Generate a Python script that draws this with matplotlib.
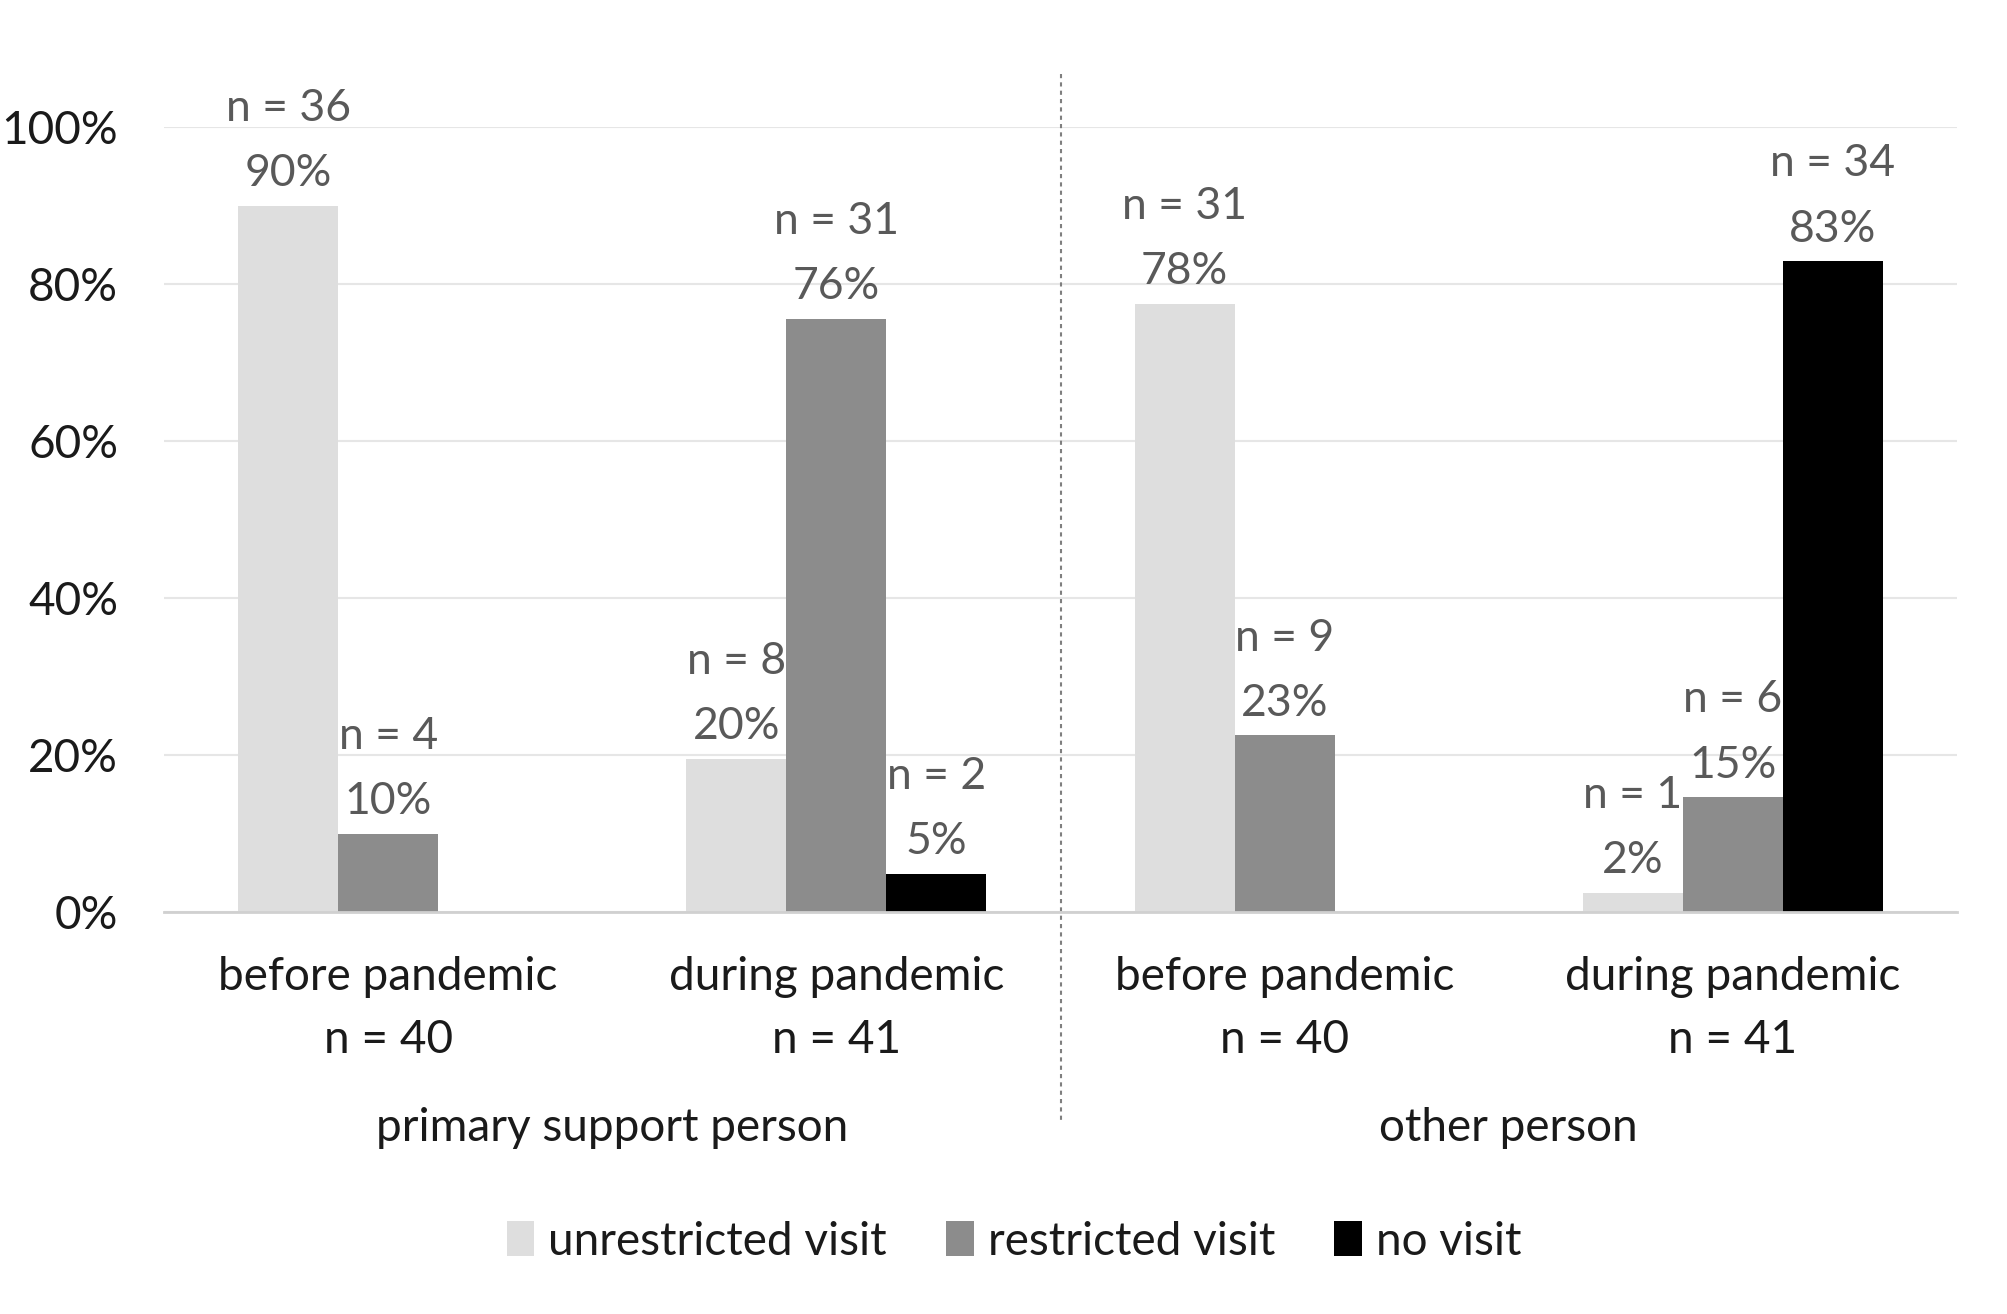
import matplotlib
matplotlib.use('Agg')
import matplotlib.pyplot as plt
import matplotlib.transforms as mtransforms
from matplotlib.patches import Patch

plt.rcParams['font.family'] = ['Lato', 'DejaVu Sans']

# data
categories = ['before pandemic', 'during pandemic', 'before pandemic', 'during pandemic']
totals = [40, 41, 40, 41]
groups = ['primary support person', 'other person']
series = ['unrestricted visit', 'restricted visit', 'no visit']
counts_unrestricted = [36, 8, 31, 1]
counts_restricted = [4, 31, 9, 6]
counts_novisit = [0, 2, 0, 34]
colors = ['#dedede', '#8c8c8c', '#000000']

counts = [counts_unrestricted, counts_restricted, counts_novisit]

fig = plt.figure(figsize=(20.08, 13.14), dpi=100)
ax = fig.add_axes([0.0817, 0.3059, 0.8929, 0.5974])

fs = 33
bw = 0.223
offsets = [-bw, 0, bw]
for s, (name, cnts, col) in enumerate(zip(series, counts, colors)):
    xs = [i + offsets[s] for i in range(len(categories))]
    pcts = [c / t * 100 for c, t in zip(cnts, totals)]
    ax.bar(xs, pcts, width=bw, color=col, label=name, zorder=3)
    for x, p, c in zip(xs, pcts, cnts):
        if c == 0:
            continue
        ax.annotate('%d%%' % int(p + 0.5), (x, p), xytext=(0, 23), textcoords='offset points',
                    ha='center', va='center', fontsize=32, color='#595959', annotation_clip=False)
        ax.annotate('n = %d' % c, (x, p), xytext=(0, 70), textcoords='offset points',
                    ha='center', va='center', fontsize=32, color='#595959', annotation_clip=False)

ax.set_xlim(-0.5, 3.5)
ax.set_ylim(0, 100)
ax.set_yticks([0, 20, 40, 60, 80, 100])
ax.set_yticklabels(['0%', '20%', '40%', '60%', '80%', '100%'])
ax.tick_params(axis='y', length=0, pad=33, labelsize=fs, labelcolor='#1a1a1a')
ax.set_xticks([])
ax.grid(axis='y', color='#e6e6e6', linewidth=1.5, zorder=0)
for sp in ['top', 'right', 'left']:
    ax.spines[sp].set_visible(False)
ax.spines['bottom'].set_color('#d0d0d0')
ax.spines['bottom'].set_linewidth(2)
ax.spines['bottom'].set_zorder(4)

trans = mtransforms.blended_transform_factory(ax.transData, ax.transAxes)
for i, (cat, t) in enumerate(zip(categories, totals)):
    ax.text(i, -0.083, cat, transform=trans, ha='center', va='center', fontsize=fs, color='#1a1a1a')
    ax.text(i, -0.163, 'n = %d' % t, transform=trans, ha='center', va='center', fontsize=fs, color='#1a1a1a')
for g, name in enumerate(groups):
    ax.text(0.5 + 2 * g, -0.275, name, transform=trans, ha='center', va='center', fontsize=fs, color='#1a1a1a')

# separator between groups
ax.plot([1.5, 1.5], [1.068, -0.269], transform=trans, color='#7f7f7f', linestyle=(0, (2, 2)),
        linewidth=1.5, clip_on=False)

handles = [Patch(facecolor=c, edgecolor='none') for c in colors]
fig.legend(handles, series, loc='center', bbox_to_anchor=(0.505, 0.055), ncol=3, frameon=False,
           fontsize=fs, handlelength=0.6, handleheight=0.8, handletextpad=0.3, columnspacing=1.3,
           labelcolor='#1a1a1a')

fig.savefig('out.png', dpi=100)
